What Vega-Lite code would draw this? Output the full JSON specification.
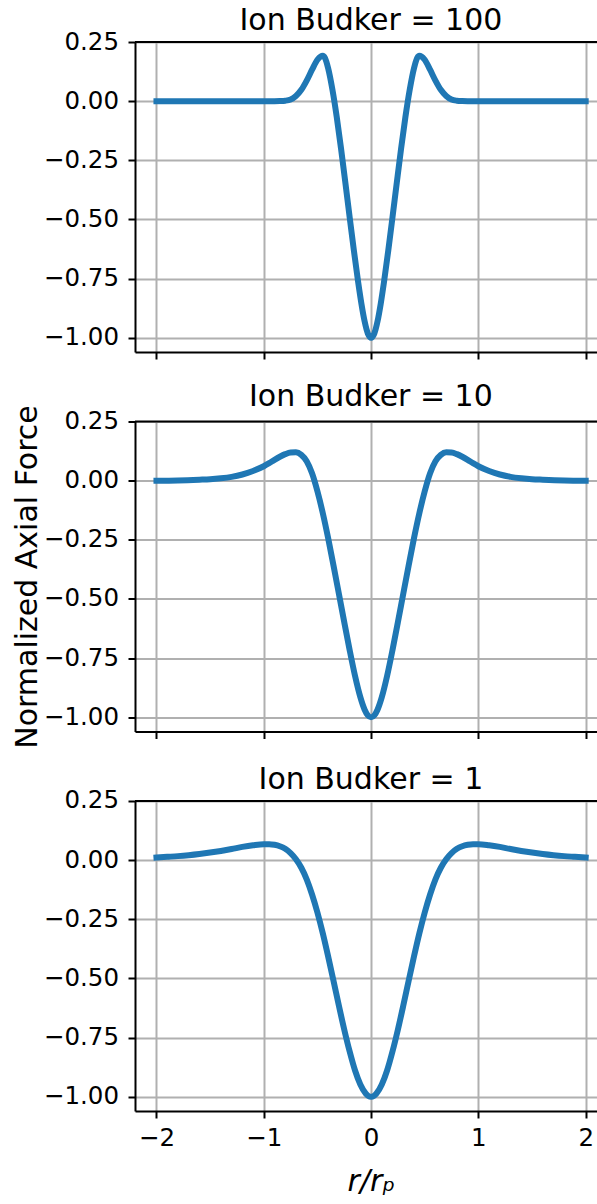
{
  "$schema": "https://vega.github.io/schema/vega-lite/v6.json",
  "padding": {"left": 12, "top": 6, "right": 0, "bottom": 0},
  "background": "white",
  "datasets": {
    "force": [
      {"r": -2.0, "force": 0, "budker": 100},
      {"r": -1.5, "force": 0, "budker": 100},
      {"r": -1.0, "force": 0, "budker": 100},
      {"r": -0.9, "force": 0, "budker": 100},
      {"r": -0.85, "force": 0.0005, "budker": 100},
      {"r": -0.8, "force": 0.002, "budker": 100},
      {"r": -0.75, "force": 0.007, "budker": 100},
      {"r": -0.7, "force": 0.022, "budker": 100},
      {"r": -0.65, "force": 0.048, "budker": 100},
      {"r": -0.6, "force": 0.087, "budker": 100},
      {"r": -0.55, "force": 0.133, "budker": 100},
      {"r": -0.5, "force": 0.175, "budker": 100},
      {"r": -0.47, "force": 0.189, "budker": 100},
      {"r": -0.45, "force": 0.192, "budker": 100},
      {"r": -0.43, "force": 0.183, "budker": 100},
      {"r": -0.4, "force": 0.139, "budker": 100},
      {"r": -0.36, "force": 0.048, "budker": 100},
      {"r": -0.32, "force": -0.067, "budker": 100},
      {"r": -0.28, "force": -0.2, "budker": 100},
      {"r": -0.24, "force": -0.343, "budker": 100},
      {"r": -0.2, "force": -0.489, "budker": 100},
      {"r": -0.16, "force": -0.632, "budker": 100},
      {"r": -0.12, "force": -0.766, "budker": 100},
      {"r": -0.09, "force": -0.856, "budker": 100},
      {"r": -0.06, "force": -0.931, "budker": 100},
      {"r": -0.03, "force": -0.982, "budker": 100},
      {"r": 0.0, "force": -1.0, "budker": 100},
      {"r": 0.03, "force": -0.982, "budker": 100},
      {"r": 0.06, "force": -0.931, "budker": 100},
      {"r": 0.09, "force": -0.856, "budker": 100},
      {"r": 0.12, "force": -0.766, "budker": 100},
      {"r": 0.16, "force": -0.632, "budker": 100},
      {"r": 0.2, "force": -0.489, "budker": 100},
      {"r": 0.24, "force": -0.343, "budker": 100},
      {"r": 0.28, "force": -0.2, "budker": 100},
      {"r": 0.32, "force": -0.067, "budker": 100},
      {"r": 0.36, "force": 0.048, "budker": 100},
      {"r": 0.4, "force": 0.139, "budker": 100},
      {"r": 0.43, "force": 0.183, "budker": 100},
      {"r": 0.45, "force": 0.192, "budker": 100},
      {"r": 0.47, "force": 0.189, "budker": 100},
      {"r": 0.5, "force": 0.175, "budker": 100},
      {"r": 0.55, "force": 0.133, "budker": 100},
      {"r": 0.6, "force": 0.087, "budker": 100},
      {"r": 0.65, "force": 0.048, "budker": 100},
      {"r": 0.7, "force": 0.022, "budker": 100},
      {"r": 0.75, "force": 0.007, "budker": 100},
      {"r": 0.8, "force": 0.002, "budker": 100},
      {"r": 0.85, "force": 0.0005, "budker": 100},
      {"r": 0.9, "force": 0, "budker": 100},
      {"r": 1.0, "force": 0, "budker": 100},
      {"r": 1.5, "force": 0, "budker": 100},
      {"r": 2.0, "force": 0, "budker": 100},

      {"r": -2.0, "force": 0.0, "budker": 10},
      {"r": -1.8, "force": 0.001, "budker": 10},
      {"r": -1.6, "force": 0.004, "budker": 10},
      {"r": -1.5, "force": 0.006, "budker": 10},
      {"r": -1.4, "force": 0.01, "budker": 10},
      {"r": -1.3, "force": 0.016, "budker": 10},
      {"r": -1.2, "force": 0.026, "budker": 10},
      {"r": -1.1, "force": 0.041, "budker": 10},
      {"r": -1.0, "force": 0.061, "budker": 10},
      {"r": -0.95, "force": 0.074, "budker": 10},
      {"r": -0.9, "force": 0.088, "budker": 10},
      {"r": -0.85, "force": 0.101, "budker": 10},
      {"r": -0.8, "force": 0.112, "budker": 10},
      {"r": -0.75, "force": 0.119, "budker": 10},
      {"r": -0.7, "force": 0.12, "budker": 10},
      {"r": -0.65, "force": 0.109, "budker": 10},
      {"r": -0.6, "force": 0.082, "budker": 10},
      {"r": -0.55, "force": 0.031, "budker": 10},
      {"r": -0.5, "force": -0.045, "budker": 10},
      {"r": -0.45, "force": -0.137, "budker": 10},
      {"r": -0.4, "force": -0.243, "budker": 10},
      {"r": -0.35, "force": -0.359, "budker": 10},
      {"r": -0.3, "force": -0.478, "budker": 10},
      {"r": -0.25, "force": -0.598, "budker": 10},
      {"r": -0.2, "force": -0.715, "budker": 10},
      {"r": -0.15, "force": -0.824, "budker": 10},
      {"r": -0.1, "force": -0.915, "budker": 10},
      {"r": -0.06, "force": -0.968, "budker": 10},
      {"r": -0.03, "force": -0.992, "budker": 10},
      {"r": 0.0, "force": -1.0, "budker": 10},
      {"r": 0.03, "force": -0.992, "budker": 10},
      {"r": 0.06, "force": -0.968, "budker": 10},
      {"r": 0.1, "force": -0.915, "budker": 10},
      {"r": 0.15, "force": -0.824, "budker": 10},
      {"r": 0.2, "force": -0.715, "budker": 10},
      {"r": 0.25, "force": -0.598, "budker": 10},
      {"r": 0.3, "force": -0.478, "budker": 10},
      {"r": 0.35, "force": -0.359, "budker": 10},
      {"r": 0.4, "force": -0.243, "budker": 10},
      {"r": 0.45, "force": -0.137, "budker": 10},
      {"r": 0.5, "force": -0.045, "budker": 10},
      {"r": 0.55, "force": 0.031, "budker": 10},
      {"r": 0.6, "force": 0.082, "budker": 10},
      {"r": 0.65, "force": 0.109, "budker": 10},
      {"r": 0.7, "force": 0.12, "budker": 10},
      {"r": 0.75, "force": 0.119, "budker": 10},
      {"r": 0.8, "force": 0.112, "budker": 10},
      {"r": 0.85, "force": 0.101, "budker": 10},
      {"r": 0.9, "force": 0.088, "budker": 10},
      {"r": 0.95, "force": 0.074, "budker": 10},
      {"r": 1.0, "force": 0.061, "budker": 10},
      {"r": 1.1, "force": 0.041, "budker": 10},
      {"r": 1.2, "force": 0.026, "budker": 10},
      {"r": 1.3, "force": 0.016, "budker": 10},
      {"r": 1.4, "force": 0.01, "budker": 10},
      {"r": 1.5, "force": 0.006, "budker": 10},
      {"r": 1.6, "force": 0.004, "budker": 10},
      {"r": 1.8, "force": 0.001, "budker": 10},
      {"r": 2.0, "force": 0.0, "budker": 10},

      {"r": -2.0, "force": 0.011, "budker": 1},
      {"r": -1.9, "force": 0.014, "budker": 1},
      {"r": -1.8, "force": 0.017, "budker": 1},
      {"r": -1.7, "force": 0.021, "budker": 1},
      {"r": -1.6, "force": 0.026, "budker": 1},
      {"r": -1.5, "force": 0.032, "budker": 1},
      {"r": -1.4, "force": 0.039, "budker": 1},
      {"r": -1.3, "force": 0.047, "budker": 1},
      {"r": -1.2, "force": 0.056, "budker": 1},
      {"r": -1.1, "force": 0.063, "budker": 1},
      {"r": -1.0, "force": 0.0675, "budker": 1},
      {"r": -0.95, "force": 0.0675, "budker": 1},
      {"r": -0.9, "force": 0.065, "budker": 1},
      {"r": -0.85, "force": 0.059, "budker": 1},
      {"r": -0.8, "force": 0.048, "budker": 1},
      {"r": -0.75, "force": 0.03, "budker": 1},
      {"r": -0.7, "force": 0.004, "budker": 1},
      {"r": -0.65, "force": -0.032, "budker": 1},
      {"r": -0.6, "force": -0.081, "budker": 1},
      {"r": -0.55, "force": -0.145, "budker": 1},
      {"r": -0.5, "force": -0.221, "budker": 1},
      {"r": -0.45, "force": -0.309, "budker": 1},
      {"r": -0.4, "force": -0.407, "budker": 1},
      {"r": -0.35, "force": -0.51, "budker": 1},
      {"r": -0.3, "force": -0.615, "budker": 1},
      {"r": -0.25, "force": -0.716, "budker": 1},
      {"r": -0.2, "force": -0.808, "budker": 1},
      {"r": -0.15, "force": -0.888, "budker": 1},
      {"r": -0.1, "force": -0.948, "budker": 1},
      {"r": -0.05, "force": -0.986, "budker": 1},
      {"r": -0.025, "force": -0.9965, "budker": 1},
      {"r": 0.0, "force": -1.0, "budker": 1},
      {"r": 0.025, "force": -0.9965, "budker": 1},
      {"r": 0.05, "force": -0.986, "budker": 1},
      {"r": 0.1, "force": -0.948, "budker": 1},
      {"r": 0.15, "force": -0.888, "budker": 1},
      {"r": 0.2, "force": -0.808, "budker": 1},
      {"r": 0.25, "force": -0.716, "budker": 1},
      {"r": 0.3, "force": -0.615, "budker": 1},
      {"r": 0.35, "force": -0.51, "budker": 1},
      {"r": 0.4, "force": -0.407, "budker": 1},
      {"r": 0.45, "force": -0.309, "budker": 1},
      {"r": 0.5, "force": -0.221, "budker": 1},
      {"r": 0.55, "force": -0.145, "budker": 1},
      {"r": 0.6, "force": -0.081, "budker": 1},
      {"r": 0.65, "force": -0.032, "budker": 1},
      {"r": 0.7, "force": 0.004, "budker": 1},
      {"r": 0.75, "force": 0.03, "budker": 1},
      {"r": 0.8, "force": 0.048, "budker": 1},
      {"r": 0.85, "force": 0.059, "budker": 1},
      {"r": 0.9, "force": 0.065, "budker": 1},
      {"r": 0.95, "force": 0.0675, "budker": 1},
      {"r": 1.0, "force": 0.0675, "budker": 1},
      {"r": 1.1, "force": 0.063, "budker": 1},
      {"r": 1.2, "force": 0.056, "budker": 1},
      {"r": 1.3, "force": 0.047, "budker": 1},
      {"r": 1.4, "force": 0.039, "budker": 1},
      {"r": 1.5, "force": 0.032, "budker": 1},
      {"r": 1.6, "force": 0.026, "budker": 1},
      {"r": 1.7, "force": 0.021, "budker": 1},
      {"r": 1.8, "force": 0.017, "budker": 1},
      {"r": 1.9, "force": 0.014, "budker": 1},
      {"r": 2.0, "force": 0.011, "budker": 1}
    ]
  },
  "data": {"name": "force"},
  "spacing": 69.5,
  "bounds": "flush",
  "vconcat": [
    {
      "title": {"text": "Ion Budker = 100", "baseline": "alphabetic", "offset": -31, "dx": 3.7, "frame": "group", "anchor": "middle"},
      "width": 464.4,
      "height": 310,
      "layer": [
        {
          "transform": [{"filter": "datum.budker == 100"}],
          "mark": {"type": "line", "color": "#1f77b4", "strokeWidth": 6, "interpolate": "monotone", "strokeCap": "square", "strokeJoin": "round"},
          "encoding": {
            "x": {"field": "r", "type": "quantitative", "scale": {"domain": [-2.2, 2.1277], "nice": false, "zero": false}, "axis": {"values": [-2, -1, 0, 1, 2], "labels": false, "title": null, "grid": true}},
            "y": {"field": "force", "type": "quantitative", "scale": {"domain": [-1.06, 0.25], "nice": false, "zero": false}, "axis": {"values": [-1, -0.75, -0.5, -0.25, 0, 0.25], "format": ".2f", "title": null, "grid": true}}
          }
        },
        {
          "data": {"values": [{}]},
          "mark": {"type": "rule", "color": "black", "strokeWidth": 2},
          "encoding": {"y": {"datum": 0.25}}
        }
      ]
    },
    {
      "title": {"text": "Ion Budker = 10", "baseline": "alphabetic", "offset": -31, "dx": 3.7, "frame": "group", "anchor": "middle"},
      "width": 464.4,
      "height": 310,
      "layer": [
        {
          "transform": [{"filter": "datum.budker == 10"}],
          "mark": {"type": "line", "color": "#1f77b4", "strokeWidth": 6, "interpolate": "monotone", "strokeCap": "square", "strokeJoin": "round"},
          "encoding": {
            "x": {"field": "r", "type": "quantitative", "scale": {"domain": [-2.2, 2.1277], "nice": false, "zero": false}, "axis": {"values": [-2, -1, 0, 1, 2], "labels": false, "title": null, "grid": true}},
            "y": {"field": "force", "type": "quantitative", "scale": {"domain": [-1.06, 0.25], "nice": false, "zero": false}, "axis": {"values": [-1, -0.75, -0.5, -0.25, 0, 0.25], "format": ".2f", "title": "Normalized Axial Force", "titleX": -98.5, "titleY": 155, "titleAngle": -90, "titleBaseline": "alphabetic", "titleAlign": "center", "grid": true}}
          }
        },
        {
          "data": {"values": [{}]},
          "mark": {"type": "rule", "color": "black", "strokeWidth": 2},
          "encoding": {"y": {"datum": 0.25}}
        }
      ]
    },
    {
      "title": {"text": "Ion Budker = 1", "baseline": "alphabetic", "offset": -31, "dx": 3.7, "frame": "group", "anchor": "middle"},
      "width": 464.4,
      "height": 310,
      "layer": [
        {
          "transform": [{"filter": "datum.budker == 1"}],
          "mark": {"type": "line", "color": "#1f77b4", "strokeWidth": 6, "interpolate": "monotone", "strokeCap": "square", "strokeJoin": "round"},
          "encoding": {
            "x": {"field": "r", "type": "quantitative", "scale": {"domain": [-2.2, 2.1277], "nice": false, "zero": false}, "axis": {"values": [-2, -1, 0, 1, 2], "format": "d", "labelPadding": 8.5, "title": "r/rₚ", "titleFontStyle": "italic", "titleX": 235.9, "titleY": 80, "titleBaseline": "alphabetic", "titleAlign": "center", "grid": true}},
            "y": {"field": "force", "type": "quantitative", "scale": {"domain": [-1.06, 0.25], "nice": false, "zero": false}, "axis": {"values": [-1, -0.75, -0.5, -0.25, 0, 0.25], "format": ".2f", "title": null, "grid": true}}
          }
        },
        {
          "data": {"values": [{}]},
          "mark": {"type": "rule", "color": "black", "strokeWidth": 2},
          "encoding": {"y": {"datum": 0.25}}
        }
      ]
    }
  ],
  "config": {
    "font": "DejaVu Sans",
    "view": {"stroke": null},
    "axis": {
      "domainColor": "black", "domainWidth": 2,
      "tickColor": "black", "tickWidth": 2, "tickSize": 7,
      "gridColor": "#b0b0b0", "gridWidth": 2, "gridOpacity": 1,
      "labelFont": "DejaVu Sans", "labelFontSize": 24.5, "labelColor": "black", "labelPadding": 9.5,
      "titleFont": "DejaVu Sans", "titleFontSize": 30, "titleFontWeight": "normal", "titleColor": "black"
    },
    "title": {"font": "DejaVu Sans", "fontSize": 30, "fontWeight": "normal", "color": "black"}
  }
}
